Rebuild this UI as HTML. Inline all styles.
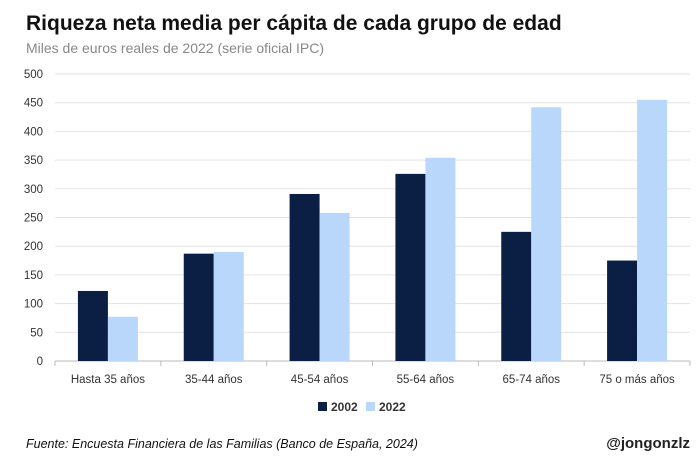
<!DOCTYPE html>
<html><head><meta charset="utf-8"><style>
body{margin:0;background:#fff;font-family:"Liberation Sans",sans-serif;}
</style></head><body>
<svg width="700" height="466" xmlns="http://www.w3.org/2000/svg" id="c">
<rect width="700" height="466" fill="#fff"/>
<text x="26" y="30" font-size="21" font-weight="bold" fill="#111">Riqueza neta media per cápita de cada grupo de edad</text>
<text x="26" y="53" font-size="14" fill="#888">Miles de euros reales de 2022 (serie oficial IPC)</text>
<g id="grid"></g><g id="bars"></g><g id="xl"></g>
<rect x="318" y="402" width="9" height="9" fill="#0b1f44"/>
<text x="331" y="411" font-size="12" font-weight="bold" fill="#333">2002</text>
<rect x="366" y="402" width="9" height="9" fill="#b8d7fa"/>
<text x="379" y="411" font-size="12" font-weight="bold" fill="#333">2022</text>
<text x="26" y="448" font-size="12.5" font-style="italic" fill="#111">Fuente: Encuesta Financiera de las Familias (Banco de España, 2024)</text>
<text x="690" y="448" font-size="15" font-weight="bold" fill="#222" text-anchor="end">@jongonzlz</text>
</svg>
<script>
const categories=["Hasta 35 años","35-44 años","45-54 años","55-64 años","65-74 años","75 o más años"];
const values2002=[122,187,291,326,225,175];
const values2022=[77,190,258,354,442,455];
const ticks=[0,50,100,150,200,250,300,350,400,450,500];
const NS="http://www.w3.org/2000/svg";
const x0=55,x1=690,yb=361,yt=74,max=500;
const y=v=>yb-(v/max)*(yb-yt);
const bw=(x1-x0)/categories.length;
const cx=i=>x0+bw*(i+0.5);
function mk(t,a,p){const e=document.createElementNS(NS,t);for(const k in a)e.setAttribute(k,a[k]);document.getElementById(p).appendChild(e);return e;}
ticks.forEach(t=>{
 const l=mk("line",{x1:x0,x2:x1,y1:y(t),y2:y(t),stroke:t===0?"#bbb":"#e3e3e3","stroke-width":1},"grid");
 
 
 const tx=mk("text",{x:43,y:y(t)+4,"font-size":11.5,fill:"#333","text-anchor":"end"},"grid");
 tx.textContent=t;
 
 
});
categories.forEach((c,i)=>{
 const b1=mk("rect",{x:cx(i)-30,y:y(values2002[i]),width:30,height:yb-y(values2002[i]),fill:"#0b1f44"},"bars");
 
 
 const b2=mk("rect",{x:cx(i),y:y(values2022[i]),width:30,height:yb-y(values2022[i]),fill:"#b8d7fa"},"bars");
 
 
 const tk=mk("line",{x1:x0+bw*i,x2:x0+bw*i,y1:yb,y2:yb+5,stroke:"#bbb"},"xl");
 
 
 const t=mk("text",{x:cx(i),y:383,"font-size":11.5,fill:"#333","text-anchor":"middle"},"xl");
 t.textContent=c;
 
 
});
const te=mk("line",{x1:x1,x2:x1,y1:yb,y2:yb+5,stroke:"#bbb"},"xl");


</script>
</body></html>
